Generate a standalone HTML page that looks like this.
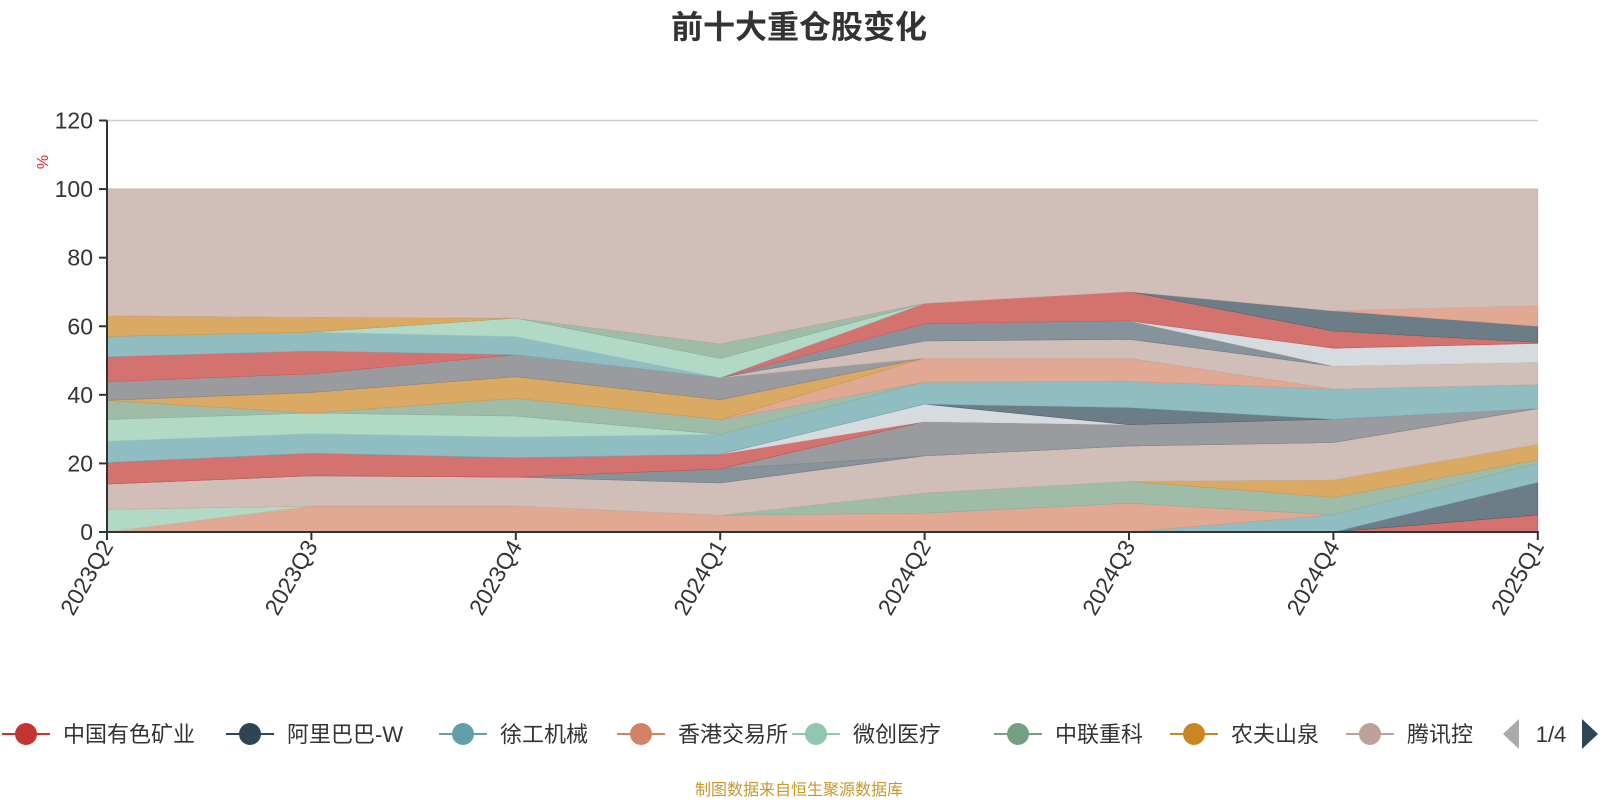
<!DOCTYPE html>
<html><head><meta charset="utf-8"><style>
body{margin:0;background:#fff;width:1600px;height:800px;overflow:hidden;font-family:"Liberation Sans","Noto Sans CJK SC",sans-serif}
svg text{font-family:"Liberation Sans","Noto Sans CJK SC",sans-serif}
</style></head><body>
<svg id="chart" width="1600" height="800" xmlns="http://www.w3.org/2000/svg">
<text x="799" y="38" text-anchor="middle" font-size="32" font-weight="bold" fill="#333">前十大重仓股变化</text>
<g id="grid"></g><g id="areas"></g><g id="axes"></g>
<text transform="translate(48,162) rotate(-90)" text-anchor="middle" font-size="16" fill="#e8232b">%</text>
<g id="legend"></g>
<text x="799" y="795" text-anchor="middle" font-size="16" fill="#c8962a">制图数据来自恒生聚源数据库</text>
</svg>
<script>
const categories=["2023Q2","2023Q3","2023Q4","2024Q1","2024Q2","2024Q3","2024Q4","2025Q1"];
const yTicks=[0,20,40,60,80,100,120];
const palette=['#c23531','#2f4554','#61a0a8','#d48265','#91c7ae','#749f83','#ca8622','#bda29a','#6e7074','#546570','#c4ccd3'];
const seriesNames=["中国有色矿业","阿里巴巴-W","徐工机械","香港交易所","微创医疗","中联重科","农夫山泉","腾讯控股"];
const layerColors=[0,1,2,3,4,5,6,7,9,8,0,10,1,2,4,5,3,6,8,7,9,10,0,2,4,5,6,1,3,7];
const layerValues=[
[0,0,0,0,0,0,0,5],
[0,0,0,0,0,0,0,9.5],
[0,0,0,0,0,0,5,5.5],
[0,7.6,7.6,4.9,5.5,8.4,0,0],
[6.6,0,0,0,0,0,0,0],
[0,0,0,0,5.9,6.4,5.1,1],
[0,0,0,0,0,0,5.1,4.6],
[7.4,8.8,8.4,9.4,10.8,10.3,10.9,10.4],
[0,0,0,4.1,0,0,0,0],
[0,0,0,0,10,6.2,6.8,0],
[6.3,6.6,5.7,4.3,0,0,0,0],
[0,0,0,0,5.1,0,0,0],
[0,0,0,0,0,5,0,0],
[6.2,5.7,6,5.8,6.4,7.6,8.8,7],
[6.3,6,6.1,0,0,0,0,0],
[5.6,0,5.2,4.3,0,0,0,0],
[0,0,0,0,7,6.8,0,0],
[0,6,6.3,5.8,0,0,0,0],
[5.4,5.4,6.4,6.4,0,0,0,0],
[0,0,0,0,5,5.5,6.7,6.5],
[0,0,0,0,5,5.4,0,0],
[0,0,0,0,0,0,5.2,5.5],
[7.3,6.7,0,0,6,8.5,5,0.3],
[5.9,5.5,5.3,0,0,0,0,0],
[0,0,5.4,5.6,0,0,0,0],
[0,0,0,4.3,0,0,0,0],
[6.1,4.3,0,0,0,0,0,0],
[0,0,0,0,0,0,5.9,4.7],
[0,0,0,0,0,0,0,6],
[36.9,37.4,37.6,45.1,33.3,29.9,35.5,34]
];
const NS="http://www.w3.org/2000/svg";
const X0=107,XS=204.4,Y0=532,YS=411.5/120;
const xs=i=>X0+i*XS, ys=v=>Y0-v*YS;
const XE=xs(categories.length-1);
function mk(t,a,p){const e=document.createElementNS(NS,t);for(const k in a)e.setAttribute(k,a[k]);p.appendChild(e);return e;}
function hexA(h,a){const r=parseInt(h.slice(1,3),16),g=parseInt(h.slice(3,5),16),b=parseInt(h.slice(5,7),16);return `rgb(${Math.round(r*a+255*(1-a))},${Math.round(g*a+255*(1-a))},${Math.round(b*a+255*(1-a))})`;}
const grid=document.getElementById('grid');
yTicks.forEach(t=>{const l=mk('line',{x1:X0,x2:XE,y1:ys(t),y2:ys(t),stroke:'#ccc','stroke-width':1.5},grid);

});
const areas=document.getElementById('areas');
let base=categories.map(()=>0);
layerValues.forEach((vals,li)=>{
 const top=base.map((b,i)=>b+vals[i]);
 let d='M'+top.map((v,i)=>xs(i)+','+ys(v)).join(' L');
 for(let i=categories.length-1;i>=0;i--)d+=' L'+xs(i)+','+ys(base[i]);
 d+='Z';
 const c=palette[layerColors[li]];
 const p=mk('path',{d:d,fill:hexA(c,0.7),stroke:hexA(c,0.85),'stroke-width':0.6},areas);
 
 
 base=top;
});
const axes=document.getElementById('axes');
let a=mk('line',{x1:X0,x2:X0,y1:ys(120),y2:Y0+1,stroke:'#333','stroke-width':2},axes);


a=mk('line',{x1:X0,x2:XE+1,y1:Y0,y2:Y0,stroke:'#333','stroke-width':2},axes);


yTicks.forEach(t=>{mk('line',{x1:X0-8,x2:X0,y1:ys(t),y2:ys(t),stroke:'#333','stroke-width':2},axes);
 const tx=mk('text',{x:X0-14,y:ys(t)+8,'text-anchor':'end','font-size':23,fill:'#333'},axes);tx.textContent=t;
 
 });
categories.forEach((c,i)=>{mk('line',{x1:xs(i),x2:xs(i),y1:Y0,y2:Y0+8,stroke:'#333','stroke-width':2},axes);
 const tx=mk('text',{transform:`translate(${xs(i)+7},${Y0+14}) rotate(-60)`,'text-anchor':'end','font-size':23,fill:'#333'},axes);tx.textContent=c;
 
 });
const lg=document.getElementById('legend');
const lx=[26,250,463,641,816,1018,1194,1370];
seriesNames.forEach((n,i)=>{const g=mk('g',{},lg);
 
 
 const c=palette[i];
 mk('line',{x1:lx[i]-24,x2:lx[i]+24,y1:734,y2:734,stroke:c,'stroke-width':2},g);
 mk('circle',{cx:lx[i],cy:734,r:11,fill:c},g);
 const t=mk('text',{x:lx[i]+37,y:742,'font-size':22,fill:'#333'},g);t.textContent=(i==7?'腾讯控':n);});
let pg=mk('polygon',{points:'1519,719 1519,749 1503,734',fill:'#aaa'},lg);


let pt=mk('text',{x:1551,y:742,'text-anchor':'middle','font-size':22,fill:'#333'},lg);pt.textContent='1/4';


pg=mk('polygon',{points:'1582,719 1582,749 1598,734',fill:'#2f4554'},lg);


</script>
</body></html>
